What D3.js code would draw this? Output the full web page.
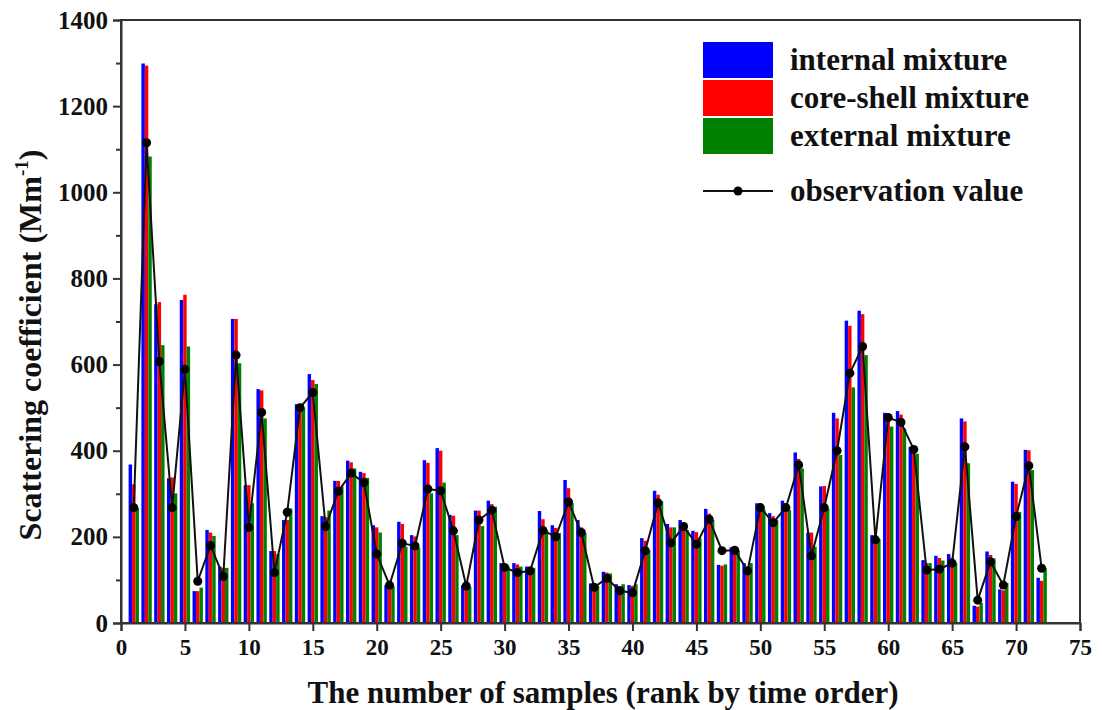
<!DOCTYPE html>
<html>
<head>
<meta charset="utf-8">
<script src="https://cdn.jsdelivr.net/npm/d3@7"></script>
<style>
  html, body { margin: 0; padding: 0; background: #fff; }
  svg { display: block; }
  text { font-family: "Liberation Serif", "Times New Roman", serif; font-weight: bold; fill: #111; }
</style>
</head>
<body>
<svg id="chart" width="1102" height="710"></svg>
<script>
// Scattering coefficient per sample (Mm^-1), samples ranked by time order
const internalMixture = [368,1299,740,336,750,74,216,131,706,320,543,167,239,508,578,248,330,377,351,227,88,235,204,378,406,251,88,261,284,139,139,131,260,227,332,239,92,119,90,88,197,307,230,239,214,265,135,176,139,278,255,284,396,210,317,488,702,725,204,488,492,409,146,156,160,475,40,166,78,328,402,105];
const coreShellMixture = [322,1294,745,338,762,74,210,128,706,320,540,167,239,508,564,246,330,373,348,222,88,230,201,372,400,249,86,261,276,136,136,131,241,221,313,222,88,117,86,86,191,298,222,233,211,254,133,173,131,278,248,278,381,210,318,475,690,717,204,486,484,405,139,151,152,468,38,158,76,323,401,98];
const externalMixture = [267,1083,645,301,642,82,202,128,603,278,475,160,266,500,555,261,317,359,337,210,86,177,175,301,326,204,84,225,270,131,131,128,216,209,278,209,86,115,90,90,170,283,222,216,197,239,136,168,139,264,240,262,359,177,266,390,547,622,195,456,451,393,139,145,139,371,47,150,93,258,355,127];
const observationValue = [268,1115,607,268,589,97,180,108,622,222,489,117,257,500,535,224,306,348,326,160,88,185,179,311,307,214,86,239,262,129,117,121,215,200,281,210,83,104,75,70,168,279,186,224,183,241,168,169,121,268,233,268,367,156,268,400,580,642,193,477,466,403,123,125,139,409,53,142,88,247,365,127];

const seriesNames = ["internal mixture", "core-shell mixture", "external mixture"];
const seriesColors = ["#0000ff", "#ff0000", "#008000"];
const observationName = "observation value";
const xTicks = [0,5,10,15,20,25,30,35,40,45,50,55,60,65,70,75];
const yTicks = [0,200,400,600,800,1000,1200,1400];
const yMinorTicks = [100,300,500,700,900,1100,1300];

const svg = d3.select("#chart");
const m = { left: 121, right: 1080, top: 20, bottom: 623 };

const x = d3.scaleLinear().domain([0, 75]).range([m.left, m.right]);
const y = d3.scaleLinear().domain([0, 1400]).range([m.bottom, m.top]);

const barW = x(0.27) - x(0);
const offsets = [-1.5 * barW, -0.5 * barW, 0.5 * barW];
const seriesData = [internalMixture, coreShellMixture, externalMixture];

// grouped bars
seriesData.forEach((vals, s) => {
  svg.append("g")
    .selectAll("rect")
    .data(vals)
    .join("rect")
    .attr("x", (d, i) => x(i + 1) + offsets[s])
    .attr("y", d => y(d))
    .attr("width", barW)
    .attr("height", d => y(0) - y(d))
    .attr("fill", seriesColors[s]);
});

// observation line with dots
const line = d3.line().x((d, i) => x(i + 1)).y(d => y(d));
svg.append("path")
  .datum(observationValue)
  .attr("d", line)
  .attr("fill", "none")
  .attr("stroke", "#111")
  .attr("stroke-width", 2);
svg.append("g")
  .selectAll("circle")
  .data(observationValue)
  .join("circle")
  .attr("cx", (d, i) => x(i + 1))
  .attr("cy", d => y(d))
  .attr("r", 4.5)
  .attr("fill", "#000");

// frame
svg.append("rect")
  .attr("x", m.left).attr("y", m.top)
  .attr("width", m.right - m.left).attr("height", m.bottom - m.top)
  .attr("fill", "none").attr("stroke", "#333").attr("stroke-width", 2);

// axes
const xAxis = d3.axisBottom(x).tickValues(xTicks).tickSize(8).tickPadding(6).tickFormat(d3.format("d"));
const gx = svg.append("g").attr("transform", `translate(0,${m.bottom})`).call(xAxis);
gx.select(".domain").attr("stroke", "#333").attr("stroke-width", 2);
gx.selectAll(".tick line").attr("stroke", "#333").attr("stroke-width", 2);
gx.selectAll(".tick text").attr("font-size", 23).attr("font-family", null).attr("fill", "#111").attr("dy", "0.78em");

const yAxis = d3.axisLeft(y).tickValues(yTicks).tickSize(8).tickPadding(5).tickFormat(d3.format("d"));
const gy = svg.append("g").attr("transform", `translate(${m.left},0)`).call(yAxis);
gy.select(".domain").attr("stroke", "#333").attr("stroke-width", 2);
gy.selectAll(".tick line").attr("stroke", "#333").attr("stroke-width", 2);
gy.selectAll(".tick text").attr("font-size", 25).attr("font-family", null).attr("fill", "#111");

const yMinor = d3.axisLeft(y).tickValues(yMinorTicks).tickSize(5).tickFormat("");
const gym = svg.append("g").attr("transform", `translate(${m.left},0)`).call(yMinor);
gym.select(".domain").remove();
gym.selectAll(".tick line").attr("stroke", "#333").attr("stroke-width", 2);

// axis titles
svg.append("text")
  .attr("x", 603)
  .attr("y", 703)
  .attr("text-anchor", "middle")
  .attr("font-size", 31)
  .text("The number of samples (rank by time order)");

const yt = svg.append("text")
  .attr("transform", `translate(41,345) rotate(-90)`)
  .attr("text-anchor", "middle")
  .attr("font-size", 32);
yt.append("tspan").text("Scattering coefficient (Mm");
yt.append("tspan").attr("font-size", 19).attr("dy", -13).text("-1");
yt.append("tspan").attr("dy", 13).text(")");

// legend
const lg = svg.append("g");
seriesNames.forEach((name, i) => {
  lg.append("rect")
    .attr("x", 703).attr("y", 42 + i * 38)
    .attr("width", 70).attr("height", 36)
    .attr("fill", seriesColors[i]);
  lg.append("text")
    .attr("x", 790).attr("y", 70 + i * 38)
    .attr("font-size", 31)
    .text(name);
});
lg.append("line")
  .attr("x1", 703).attr("x2", 773).attr("y1", 191).attr("y2", 191)
  .attr("stroke", "#111").attr("stroke-width", 2);
lg.append("circle").attr("cx", 738).attr("cy", 191).attr("r", 4.5).attr("fill", "#000");
lg.append("text")
  .attr("x", 790).attr("y", 201)
  .attr("font-size", 31)
  .text(observationName);
</script>
</body>
</html>
